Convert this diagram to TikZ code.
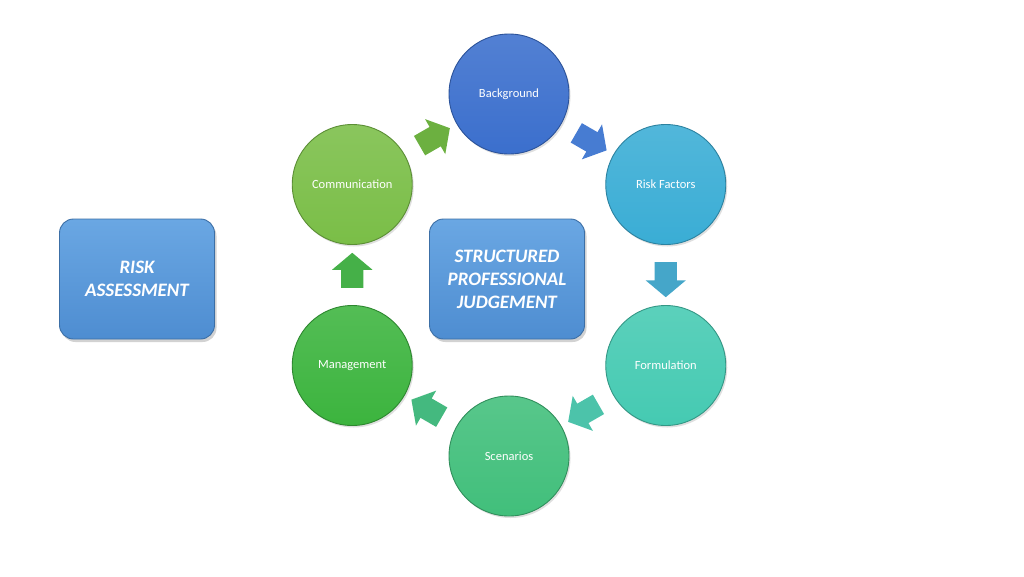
\documentclass[tikz,border=0pt]{standalone}
\usepackage{fontspec}
\setmainfont{Carlito}
\usetikzlibrary{shapes.arrows,shadows,calc}
\definecolor{cBkg}{HTML}{3B6FCD}
\definecolor{cRF}{HTML}{3AADD5}
\definecolor{cForm}{HTML}{45CAB2}
\definecolor{cScen}{HTML}{41BF7B}
\definecolor{cMgmt}{HTML}{3CB43E}
\definecolor{cComm}{HTML}{7ABE47}
\definecolor{aComm}{HTML}{6CB040}
\definecolor{aBkg}{HTML}{477CD2}
\definecolor{aRF}{HTML}{45A6C9}
\definecolor{aForm}{HTML}{4CC3AA}
\definecolor{aScen}{HTML}{44B97F}
\definecolor{aMgmt}{HTML}{45B048}
\definecolor{boxTop}{HTML}{6AA7E3}
\definecolor{boxBot}{HTML}{4E8DD1}
\definecolor{boxLine}{HTML}{3C6FA6}
\begin{document}
\begin{tikzpicture}[x=1pt,y=-1pt,
  stage/.style={circle, minimum size=120pt, inner sep=0pt, text=white,
    font=\fontsize{12.5}{14}\selectfont, line width=0.9pt,
    top color=#1!88!white, bottom color=#1, draw=#1!75!black,
    drop shadow={shadow xshift=1.5pt, shadow yshift=-2pt, opacity=0.25}},
  flow/.style={single arrow, draw=none, fill=#1, inner xsep=0pt, inner ysep=11pt,
    single arrow head extend=9pt, single arrow tip angle=100, minimum height=35pt},
  bigbox/.style={rectangle, rounded corners=14pt, minimum width=155pt, minimum height=120pt,
    top color=boxTop, bottom color=boxBot, draw=boxLine, line width=0.9pt,
    text=white, align=center, font=\fontsize{19}{23}\selectfont\bfseries\itshape,
    drop shadow={shadow xshift=2pt, shadow yshift=-3pt, opacity=0.35}}]
\useasboundingbox (0,0) rectangle (1024,576);
\fill[white] (0,0) rectangle (1024,576);
\coordinate (C) at (509,275);
\node[stage=cBkg]  (bkg)  at ($(C)+(0,-181)$) {Background};
\node[stage=cRF]   (rf)   at ($(C)+(156.75,-90.5)$) {Risk Factors};
\node[stage=cForm] (form) at ($(C)+(156.75,90.5)$) {Formulation};
\node[stage=cScen] (scen) at ($(C)+(0,181)$) {Scenarios};
\node[stage=cMgmt] (mgmt) at ($(C)+(-156.75,90.5)$) {Management};
\node[stage=cComm] (comm) at ($(C)+(-156.75,-90.5)$) {Communication};
\node[flow=aBkg,  rotate=-30]  (a1) at ($(bkg)!0.5!(rf)$) {};
\node[flow=aRF,   rotate=-90]  (a2) at ($(rf)!0.5!(form)$) {};
\node[flow=aForm, rotate=-150] (a3) at ($(form)!0.5!(scen)$) {};
\node[flow=aScen, rotate=150]  (a4) at ($(scen)!0.5!(mgmt)$) {};
\node[flow=aMgmt, rotate=90]   (a5) at ($(mgmt)!0.5!(comm)$) {};
\node[flow=aComm, rotate=30]   (a6) at ($(comm)!0.5!(bkg)$) {};
\node[bigbox] (ra)  at (137,279) {RISK\\ASSESSMENT};
\node[bigbox] (spj) at (507,279) {STRUCTURED\\PROFESSIONAL\\JUDGEMENT};
\end{tikzpicture}
\end{document}
